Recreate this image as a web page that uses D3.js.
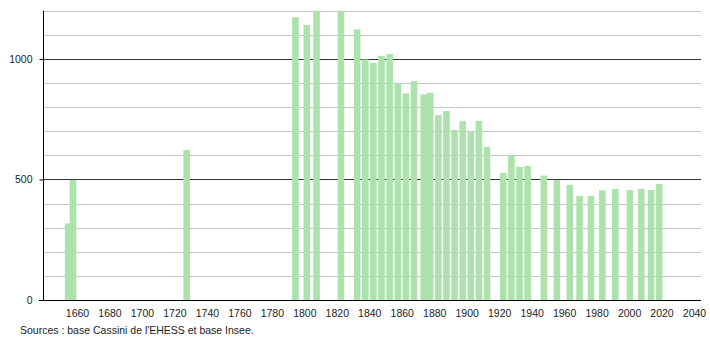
<!DOCTYPE html>
<html>
<head>
<meta charset="utf-8">
<script src="https://cdn.jsdelivr.net/npm/d3@7"></script>
<style>
  html, body { margin: 0; padding: 0; background: #fff; }
  svg { display: block; }
  text { font-family: "Liberation Sans", Arial, sans-serif; font-size: 10.5px; fill: #222; }
</style>
</head>
<body>
<svg id="chart" width="710" height="340"></svg>
<script>
// ---- data ----
const years = [1653, 1656, 1726, 1793, 1800, 1806, 1821, 1831, 1836, 1841, 1846, 1851,
  1856, 1861, 1866, 1872, 1876, 1881, 1886, 1891, 1896, 1901, 1906, 1911,
  1921, 1926, 1931, 1936, 1946, 1954, 1962, 1968, 1975, 1982, 1990, 1999,
  2006, 2012, 2017];
const population = [318, 498, 622, 1173, 1141, 1215, 1215, 1123, 998, 984, 1013, 1020,
  900, 857, 908, 853, 860, 767, 784, 705, 742, 701, 743, 635,
  527, 600, 553, 556, 516, 498, 478, 432, 432, 455, 461, 456,
  461, 456, 481];
const xTickYears = [1660, 1680, 1700, 1720, 1740, 1760, 1780, 1800, 1820, 1840, 1860,
  1880, 1900, 1920, 1940, 1960, 1980, 2000, 2020, 2040];
const yLabelTicks = [0, 500, 1000];
const yGridTicks = [100, 200, 300, 400, 500, 600, 700, 800, 900, 1000, 1100, 1200];
const sourceText = "Sources : base Cassini de l'EHESS et base Insee.";

// ---- layout ----
const svg = d3.select("#chart");
const plotL = 43, plotR = 701, plotT = 10.7, plotB = 300;
const x = d3.scaleLinear().domain([1660, 2040]).range([79.5, 696.5]);
const y = d3.scaleLinear().domain([0, 1200]).range([plotB, plotT]);
const barW = 6.6;
const fontFam = "Liberation Sans, Arial, sans-serif";

// clip for bars at top of plot
svg.append("defs").append("clipPath").attr("id", "plotclip")
  .append("rect").attr("x", plotL).attr("y", plotT).attr("width", plotR - plotL).attr("height", plotB - plotT);

// gridlines
svg.append("g").selectAll("line").data(yGridTicks).join("line")
  .attr("x1", plotL).attr("x2", plotR)
  .attr("y1", d => Math.round(y(d)) + 0.5).attr("y2", d => Math.round(y(d)) + 0.5)
  .attr("stroke", d => d % 500 === 0 ? "#333" : "#c8c8c8")
  .attr("stroke-width", 1);

// bars
svg.append("g").attr("clip-path", "url(#plotclip)")
  .selectAll("rect").data(years).join("rect")
  .attr("x", (d) => x(d) - barW / 2)
  .attr("width", barW)
  .attr("y", (d, i) => y(population[i]))
  .attr("height", (d, i) => plotB - y(population[i]))
  .attr("fill", "#ade2ad");

// y axis
const yAxis = d3.axisLeft(y).tickValues(yLabelTicks).tickSize(4).tickPadding(7)
  .tickFormat(d3.format("d"));
const gy = svg.append("g").attr("transform", `translate(${plotL + 0.5},0)`).call(yAxis);
gy.select(".domain").attr("d", `M0,${plotT}V${plotB}`).attr("stroke", "#000");
gy.selectAll(".tick line").attr("stroke", "#000");
gy.selectAll(".tick text").attr("font-family", fontFam)
  .attr("font-size", 10.5).attr("fill", "#222");

// x axis
const xAxis = d3.axisBottom(x).tickValues(xTickYears).tickSize(0).tickPadding(9)
  .tickFormat(d3.format("d"));
const gx = svg.append("g").attr("transform", `translate(-2.5,${plotB + 0.5})`).call(xAxis);
gx.select(".domain").remove();
gx.selectAll(".tick text").attr("font-family", fontFam)
  .attr("font-size", 10.2).attr("fill", "#222");
svg.append("line").attr("x1", 39).attr("x2", plotR)
  .attr("y1", plotB + 0.5).attr("y2", plotB + 0.5).attr("stroke", "#000");

// source
svg.append("text").attr("x", 20).attr("y", 334).attr("font-size", 10.4).text(sourceText);
</script>
</body>
</html>
